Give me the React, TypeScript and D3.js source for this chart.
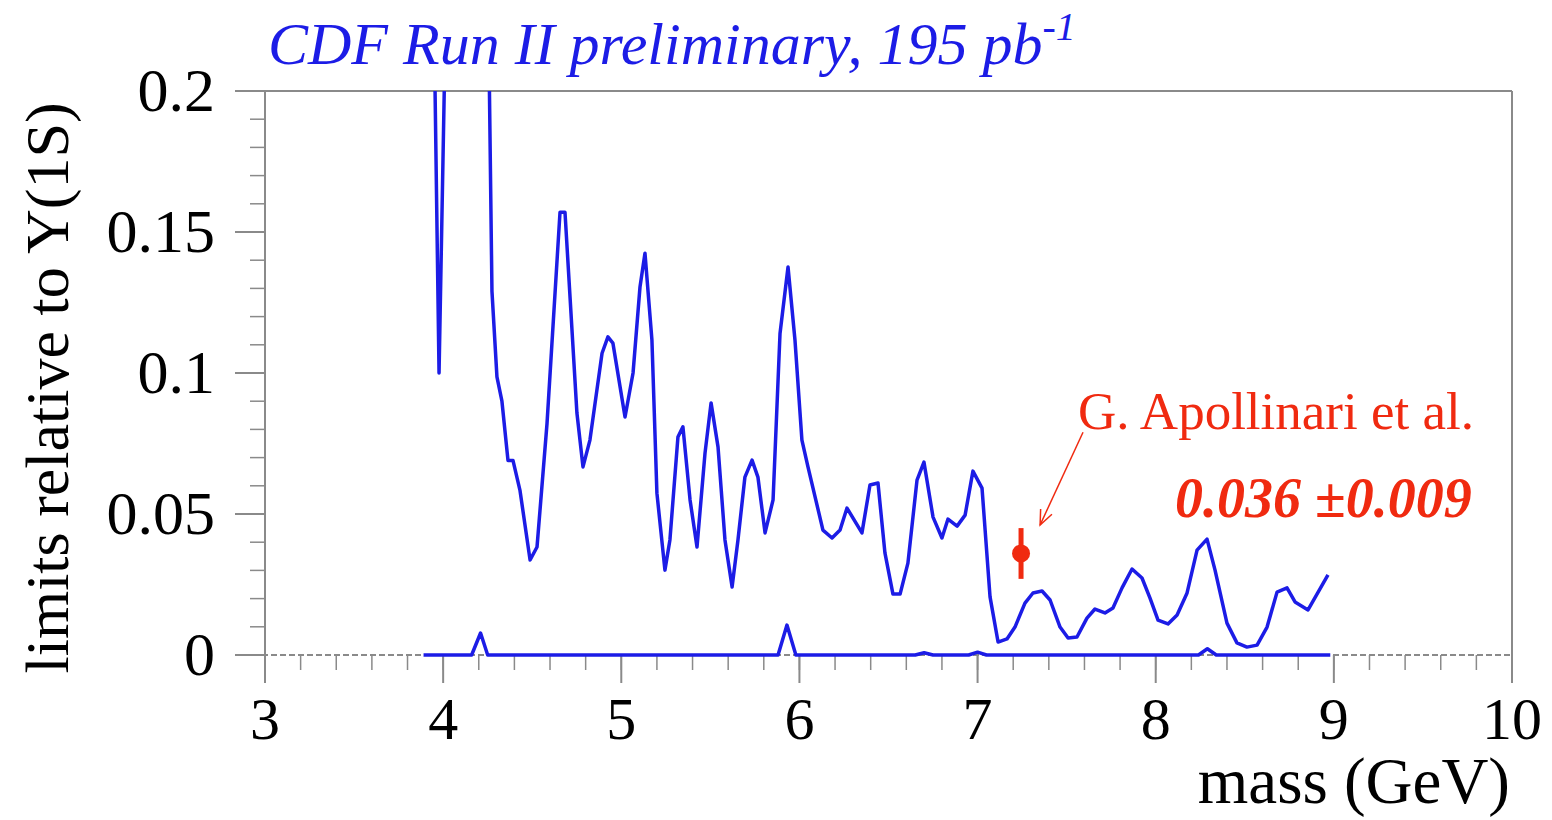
import React from "react";
import * as d3 from "d3";

// Upper limit curve (mass in GeV, limit relative to Upsilon(1S))
const limitMass = [
  3.93, 3.977, 4.05, 4.15, 4.24, 4.274, 4.302, 4.33, 4.364, 4.392, 4.431, 4.488, 4.527, 4.583,
  4.656, 4.684, 4.751, 4.785, 4.824, 4.892, 4.925, 4.953, 5.021, 5.066, 5.105, 5.133, 5.172,
  5.2, 5.245, 5.273, 5.318, 5.346, 5.386, 5.425, 5.47, 5.504, 5.543, 5.582, 5.622, 5.655, 5.694,
  5.734, 5.767, 5.807, 5.852, 5.891, 5.936, 5.975, 6.014, 6.048, 6.132, 6.183, 6.228, 6.267,
  6.351, 6.396, 6.441, 6.48, 6.525, 6.565, 6.609, 6.66, 6.699, 6.75, 6.8, 6.834, 6.885, 6.93,
  6.974, 7.025, 7.07, 7.115, 7.165, 7.21, 7.266, 7.311, 7.362, 7.407, 7.463, 7.508, 7.558,
  7.614, 7.659, 7.715, 7.76, 7.811, 7.867, 7.923, 7.968, 8.013, 8.069, 8.12, 8.176, 8.232,
  8.288, 8.333, 8.4, 8.456, 8.512, 8.569, 8.625, 8.681, 8.737, 8.782, 8.855, 8.967,
];
const limitValue = [
  0.31, 0.1, 0.35, 0.4, 0.3, 0.129, 0.0986, 0.09, 0.069, 0.069, 0.0585, 0.0337, 0.0383, 0.082,
  0.157, 0.157, 0.0858, 0.0667, 0.0762, 0.107, 0.1128, 0.1106, 0.0844, 0.1, 0.1305, 0.1425,
  0.1117, 0.0574, 0.0301, 0.0408, 0.0773, 0.0809, 0.055, 0.0383, 0.0716, 0.0894, 0.0738,
  0.0408, 0.0241, 0.0408, 0.0631, 0.0691, 0.0631, 0.0433, 0.055, 0.114, 0.1376, 0.1117,
  0.0762, 0.0667, 0.0443, 0.0415, 0.0443, 0.0521, 0.0433, 0.0603, 0.061, 0.0362, 0.0216,
  0.0216, 0.0326, 0.062, 0.0684, 0.0489, 0.0415, 0.0482, 0.0457, 0.0496, 0.0652, 0.0592,
  0.0206, 0.0046, 0.0057, 0.0099, 0.0184, 0.022, 0.0227, 0.0195, 0.0099, 0.006, 0.0064,
  0.0131, 0.0163, 0.0149, 0.0167, 0.0238, 0.0305, 0.0273, 0.0202, 0.0124, 0.011, 0.0142,
  0.022, 0.0372, 0.0411, 0.0301, 0.0113, 0.0043, 0.0028, 0.0035, 0.0099, 0.0223, 0.0238,
  0.0188, 0.016, 0.0284,
];

// Lower curve near zero
const lowMass = [3.89, 4.16, 4.21, 4.25, 5.88, 5.93, 5.98, 6.65, 6.7, 6.75, 6.95, 7.0, 7.05, 8.24, 8.29, 8.34, 8.98];
const lowValue = [0, 0, 0.0078, 0, 0, 0.0106, 0, 0, 0.0008, 0, 0, 0.001, 0, 0, 0.0022, 0, 0];

// Measurement point
const pointMass = 7.244;
const pointValue = 0.036;
const pointError = 0.009;

const xTicks = [3, 4, 5, 6, 7, 8, 9, 10];
const xMinorTicks = d3.range(30, 101, 2).map((v) => v / 10);
const yTicks = [0, 0.05, 0.1, 0.15, 0.2];
const yTickLabels = ["0", "0.05", "0.1", "0.15", "0.2"];
const yMinorTicks = d3.range(0, 21, 1).map((v) => v / 100);

const arrowFrom = [7.592, 0.079];
const arrowTo = [7.351, 0.0461];

const X0 = 265, X1 = 1512, Y0 = 655, Y1 = 91;
const BLUE = "#1c1ce6";
const RED = "#f02a10";
const GRAY = "#8a8a8a";
const SERIF = "'Liberation Serif', 'Times New Roman', serif";

export default function App() {
  const x = d3.scaleLinear().domain([3, 10]).range([X0, X1]);
  const y = d3.scaleLinear().domain([0, 0.2]).range([Y0, Y1]);

  const line = d3
    .line<[number, number]>()
    .x((d) => x(d[0]))
    .y((d) => y(d[1]));

  const limitPts = limitMass.map((m, i) => [m, limitValue[i]] as [number, number]);
  const lowPts = lowMass.map((m, i) => [m, lowValue[i]] as [number, number]);

  const ax = x(arrowFrom[0]), ay = y(arrowFrom[1]);
  const bx = x(arrowTo[0]), by = y(arrowTo[1]);
  const ang = Math.atan2(by - ay, bx - ax);
  const hl = 16, ha = 0.4;
  const h1 = [bx - hl * Math.cos(ang - ha), by - hl * Math.sin(ang - ha)];
  const h2 = [bx - hl * Math.cos(ang + ha), by - hl * Math.sin(ang + ha)];

  return (
    <svg width={1552} height={820} style={{ position: "absolute", left: 0, top: 0, background: "#fff" }}>
      <defs>
        <clipPath id="plotClip">
          <rect x={X0} y={Y1} width={X1 - X0} height={Y0 - Y1 + 5} />
        </clipPath>
      </defs>
      <rect x={0} y={0} width={1552} height={820} fill="#fff" />

      {/* frame */}
      <line x1={X0 - 30} y1={Y1} x2={X1} y2={Y1} stroke={GRAY} strokeWidth={2} />
      <line x1={X1} y1={Y1} x2={X1} y2={Y0 + 28} stroke={GRAY} strokeWidth={2} />
      <line x1={X0} y1={Y1} x2={X0} y2={Y0 + 28} stroke={GRAY} strokeWidth={2} />
      <line x1={X0 - 30} y1={Y0} x2={X1} y2={Y0} stroke={GRAY} strokeWidth={2} strokeDasharray="6 3" />

      {/* y ticks */}
      {yMinorTicks.map((t) => (
        <line key={"ym" + t} x1={X0 - 15} x2={X0} y1={y(t)} y2={y(t)} stroke={GRAY} strokeWidth={1.5} />
      ))}
      {yTicks.map((t) => (
        <line key={"yM" + t} x1={X0 - 30} x2={X0} y1={y(t)} y2={y(t)} stroke={GRAY} strokeWidth={2} />
      ))}
      {/* x ticks */}
      {xMinorTicks.map((t) => (
        <line key={"xm" + t} x1={x(t)} x2={x(t)} y1={Y0} y2={Y0 + 15} stroke={GRAY} strokeWidth={1.5} />
      ))}
      {xTicks.map((t) => (
        <line key={"xM" + t} x1={x(t)} x2={x(t)} y1={Y0} y2={Y0 + 28} stroke={GRAY} strokeWidth={2} />
      ))}

      {/* tick labels */}
      {xTicks.map((t) => (
        <text key={"xl" + t} x={x(t)} y={739} textAnchor="middle" fontFamily={SERIF} fontSize={60} fill="#000">
          {t}
        </text>
      ))}
      {yTicks.map((t, i) => (
        <text key={"yl" + t} x={215} y={y(t) + 20} textAnchor="end" fontFamily={SERIF} fontSize={62} fill="#000">
          {yTickLabels[i]}
        </text>
      ))}

      {/* axis titles */}
      <text x={1510} y={803} textAnchor="end" fontFamily={SERIF} fontSize={65} fill="#000">
        mass (GeV)
      </text>
      <text
        transform={`translate(68,388) rotate(-90)`}
        textAnchor="middle"
        fontFamily={SERIF}
        fontSize={62}
        fill="#000"
      >
        limits relative to Y(1S)
      </text>

      {/* title */}
      <text x={268} y={64} fontFamily={SERIF} fontStyle="italic" fontSize={60} fill={BLUE}>
        CDF Run II preliminary, 195 pb
        <tspan dy={-24} fontSize={40}>-1</tspan>
      </text>

      {/* curves */}
      <g clipPath="url(#plotClip)">
        <path d={line(lowPts) || ""} fill="none" stroke={BLUE} strokeWidth={3.5} strokeLinejoin="round" />
        <path d={line(limitPts) || ""} fill="none" stroke={BLUE} strokeWidth={3.5} strokeLinejoin="round" />
      </g>

      {/* measurement */}
      <line
        x1={x(pointMass)}
        x2={x(pointMass)}
        y1={y(pointValue + pointError)}
        y2={y(pointValue - pointError)}
        stroke={RED}
        strokeWidth={5}
      />
      <circle cx={x(pointMass)} cy={y(pointValue)} r={9} fill={RED} />

      {/* annotation */}
      <line x1={ax} y1={ay} x2={bx} y2={by} stroke={RED} strokeWidth={1.5} />
      <polyline points={`${h1[0]},${h1[1]} ${bx},${by} ${h2[0]},${h2[1]}`} fill="none" stroke={RED} strokeWidth={1.5} />
      <text x={1078} y={429} fontFamily={SERIF} fontSize={53} fill={RED}>
        G. Apollinari et al.
      </text>
      <text x={1175} y={517} fontFamily={SERIF} fontStyle="italic" fontWeight="bold" fontSize={56} fill={RED}>
        0.036 ±0.009
      </text>
    </svg>
  );
}
